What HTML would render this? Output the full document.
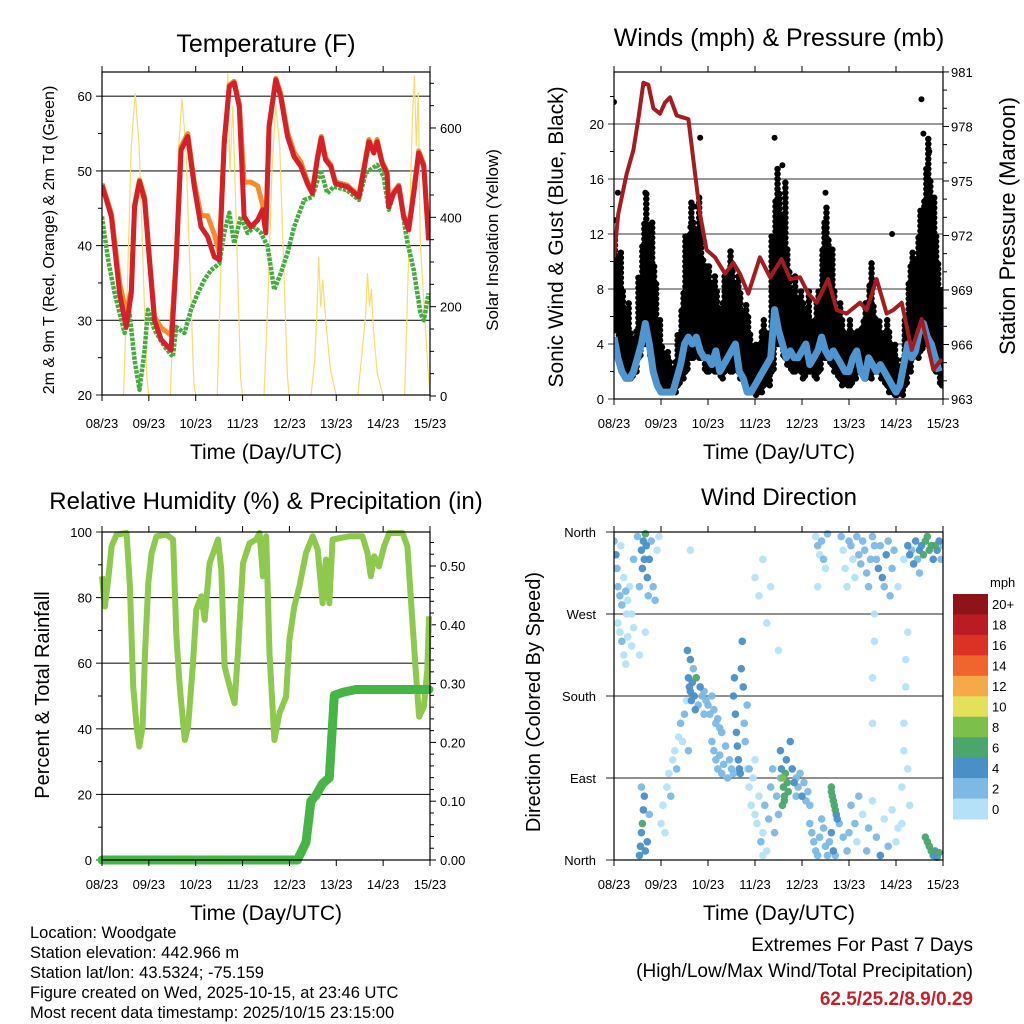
<!DOCTYPE html>
<html><head><meta charset="utf-8"><style>
html,body{margin:0;padding:0;background:#fff;}
svg{display:block;font-family:"Liberation Sans",sans-serif;}
</style></head><body>
<svg id="fig" width="1024" height="1024" viewBox="0 0 1024 1024" xmlns="http://www.w3.org/2000/svg">
<defs>
<clipPath id="c1"><rect x="102" y="72" width="328" height="323"/></clipPath>
<clipPath id="c2"><rect x="614" y="72" width="329" height="327"/></clipPath>
<clipPath id="c3"><rect x="97" y="527" width="338" height="338"/></clipPath>
<clipPath id="c4"><rect x="614" y="528" width="329" height="336"/></clipPath>
</defs>
</svg>
<script>
// ---------- Temperature panel data ----------
const tRedH=[0,4.8,9.0,12.4,15.0,16.7,19.2,21.8,24.3,26.9,30.3,35.4,38.0,40.5,43.9,47.3,50.7,54.1,57.5,60.1,62.6,65.2,67.7,70.3,72.8,76.2,79.7,82.2,83.9,85.6,89.0,91.6,95.0,98.4,101.8,105.2,107.7,110.3,112.3,114.5,117.2,119.6,125.6,131.6,134.1,136.7,139.2,140.9,143.5,146.0,146.9,149.4,152.0,154.5,157.1,159.7,162.2,164.8,167.3];
const tRed=[48.1,43.9,33.6,29.1,33.6,45.2,48.6,46.1,38.1,30.0,27.4,26.0,38.0,52.8,54.6,47.9,42.5,41.2,38.5,38.1,53.7,61.3,61.8,58.6,43.9,42.5,43.4,44.8,41.7,55.9,62.2,59.9,54.6,51.9,50.6,48.3,47.0,51.5,54.4,51.5,50.6,48.3,47.9,46.5,50.1,53.9,52.4,53.9,51.0,49.7,45.2,47.0,47.9,43.9,42.1,47.0,52.4,50.6,40.7];
const tOrange=[48.3,44.3,35.0,31.0,34.0,45.5,48.8,46.5,38.6,30.5,29.0,28.0,38.5,53.2,55.0,48.5,44.0,44.0,41.5,39.0,54.0,61.5,62.0,59.0,48.5,48.5,48.0,45.5,42.0,56.2,62.4,60.3,55.2,52.5,51.2,48.6,47.2,51.8,54.6,51.8,50.8,48.5,48.1,46.7,50.4,54.2,52.8,54.2,51.2,49.9,45.4,47.2,48.1,44.1,42.4,47.5,52.7,50.9,41.0];
const tDewH=[0,3.1,6.5,11.6,14.1,16.7,19.2,21.8,23.5,26.9,32.0,36.3,38.0,42.2,45.6,49.0,52.4,55.8,60.1,62.6,65.2,67.7,71.1,74.5,78.0,81.4,84.8,88.2,91.6,95.0,98.4,103.5,107.7,112.0,115.4,118.8,125.6,131.6,135.0,140.9,144.3,146.9,149.4,152.0,156.2,159.7,163.1,164.8,167.3];
const tDew=[43.9,38.1,33.6,28.3,31.0,24.7,20.7,26.0,31.4,28.7,26.5,25.1,29.1,28.3,31.4,33.6,35.4,36.7,37.6,41.7,44.4,40.3,43.9,41.7,42.5,41.7,39.9,34.1,36.3,39.0,42.5,46.1,46.5,50.1,47.0,47.9,47.4,46.1,49.7,50.8,49.2,44.8,47.0,47.9,40.7,36.7,31.0,30.0,33.6];
const solarH=[0,11,13,15,17,19,21,23,24, 35,37,39,41,43,45,47,48, 59,61,63,64.5,65.5,67,69,71,72, 83,85,87,89,91,93,95,96, 107,109,110,111,112,113,115,117,120, 131,133,135,136,137,138,139,141,144, 155,157,159,160,161,162,163,165,167,168];
const solarV=[0,0,250,560,678,560,300,40,0, 0,240,540,666,550,290,30,0, 0,300,600,723,500,650,350,40,0, 0,220,500,650,560,300,40,0, 0,80,180,312,200,260,150,60,0, 0,90,180,275,200,240,150,50,0, 0,300,620,718,560,680,350,200,60,0];
const tempTicks=[20,30,40,50,60];
const solarTicks=[0,200,400,600];
const dayLabels=["08/23","09/23","10/23","11/23","12/23","13/23","14/23","15/23"];
// ---------- Wind panel data ----------
const presH=[0,2.2,6.5,9.9,12.4,15.0,17.5,20.1,23.5,26.0,28.6,32.0,38.0,40.5,43.9,47.3,51.6,56.7,60.9,64.3,68.6,74.5,79.7,85.6,89.9,95.0,99.2,103.5,109.4,113.7,118.8,125.6,129.0,134.1,139.2,142.6,146.9,152.0,157.1,163.1,167.3];
const presV=[970.8,973.2,975.4,976.7,978.4,980.4,980.3,979.0,978.7,979.3,979.6,978.6,978.4,976.2,973.2,971.2,970.8,969.9,970.5,969.9,968.8,970.8,969.7,970.7,969.6,969.7,968.8,968.3,969.6,967.9,967.7,968.3,967.9,969.6,967.7,967.9,968.3,965.7,967.4,964.6,965.2];
const windV=[4.5,3,2,1.5,1.5,2,3,4,5.5,4,2,1, 0.5,0.5,0.5,0.5,1.5,2.5,4,4.5,4,4.5,3.5,3, 3,2.5,3.5,2,2.5,3,3.5,4,2,1.5,0.5,0.5, 1,1.5,2,2.5,3,6.5,5,4,3,3.5,3,3, 3.5,4,2.5,3,3.5,4.5,3.5,3,3.5,3,2.5,2, 2,3,3.5,2,1.5,3,2.5,2,2.5,2,1.5,1, 0.5,1,2.5,4,3,3.5,5,5.5,4.5,4,3,2];
const gustMax=[12,11,8,7,5,5,9,13,15,13,10,6, 4,3.5,3,3,5,8,12,14.5,13,15,12,10, 10,9,8,7,9,11,10,9,8,7,6,4, 4,5,6,5,12,17,15,16,11,8,9,8, 7,8,6,7,8,13,14,11,8,7,6,5, 6,5,5,6,7,10,7,6,5,6,5,4, 3,3,6,10,11,12,14,17,19,15,12,8];
const gustMin=[5,3,2,1.5,1.5,2,3,4,4,3,2,1, 0.5,0.5,0.5,0.5,1,1.5,2,3,3,3,3,2, 2,2,2,1.5,2,2,2,2,1.5,1,0.5,0.5, 0.3,0.5,1,1,2,4,4,3,2.5,2,2,2, 1.5,2,2,1.5,2,3,3,2.5,2,1.5,1,1, 1,1.5,2,2,1.5,1.5,2,2,1.5,1,0.5,0.3, 0.3,0.3,1,2,3,3,3.5,4,4,3,2,1];
const gustOutH=[0,0.5,2,16,39,41,44,82,86,108,142,157,158,161,160];
const gustOutV=[21.6,13,15,15,12.5,14,19,19,17,15,12,21.8,19.3,18,16.5];
const windTicks=[0,4,8,12,16,20];
const presTicks=[963,966,969,972,975,978,981];
// ---------- RH / precip data ----------
const rhH=[0,1.5,3.2,4.9,7.5,12.6,14.3,16.0,17.7,19.1,20.8,22.0,23.7,25.4,27.9,33.0,36.4,38.1,39.8,42.4,44.1,46.6,48.3,50.9,52.6,55.1,59.4,61.1,62.8,65.4,67.9,69.6,72.2,75.6,79.0,80.7,82.4,84.1,85.8,88.3,90.9,94.3,96.0,98.5,101.1,104.5,107.9,110.5,113.0,114.7,116.4,118.1,126.6,133.4,136.0,137.7,139.4,141.9,144.5,147.1,153.9,156.4,158.1,160.7,162.4,164.9,166.6,167.5];
const rhV=[86.5,77.3,85.5,95.6,99.2,99.7,83.4,53,40.7,34.6,40.7,63,84.4,93.6,98.7,99.2,97.7,68.2,53,36.6,40.7,60,76.3,80.4,73.2,90.5,97.7,88.5,59,52.9,47.8,63.1,90.5,96.6,97.7,99.7,86.5,98.7,63,36.6,44.8,49.8,67.1,77.3,83.4,93.6,98.7,94.6,78.3,91.6,78.3,97.7,98.7,98.7,93.6,86.5,92.6,89.5,95.6,99.7,99.7,95.6,80.4,58,43.7,46.8,58,74.3];
const prH=[0,100.1,104.5,107.0,109.6,113.0,116.4,119.0,123.3,130.0,167.5];
const prV=[0,0,0.03,0.10,0.11,0.13,0.14,0.28,0.285,0.29,0.29];
const rhTicks=[0,20,40,60,80,100];
const prTicks=["0.00","0.10","0.20","0.30","0.40","0.50"];
// ---------- Wind direction data ----------
const wdH=[0,1,1.5,2,3,3.5,4,5,6,6.5, 7,8,9,10,12,13,14,14.5,15,15.5, 16,16.5,17,17.5,18,19,20,21,22,23,
 2,3,4,5,6,7,9,10,13,16, 13,13.5,14,14.5,15,15.5,16,17,18,14,
 24,25,26,27,28,29,30,31,32,33, 34,35,36,37,38,
 37.5,38,38.5,39,39.5,40,40.5,41,41.5,42, 43,44,45,46,39,
 46,47,48,49,50,51,52,53,54,55, 50,51,52,53,54,55,56,57,58,59, 60,61,
 61,61.5,62,62.5,63,63.5,64,64.5,65,65.5, 66,66.5,67,68,69,
 68,69,70,71,72,73,74,75,76,77, 78,79,80,81,82,83,84,85,72,76,
 85,85.5,86,86.5,87,87.5,88,88.5,89,90, 91,92,93,86,87,
 93,94,95,96,97,98,99,100,
 100,101,102,103,104,105,106,107,108,109, 110,111,112,113,115,117,119,120,
 111,111.5,112,112.5,113,113.5,114,111,
 121,123,124,125,127,129,130,132,134,136, 138,140,142,144,145,
 103,104,105,106,107,108,109,104,
 116,117,118,119,120,121,122,123,124,125, 126,127,128,129,130,131,132,133,134,135, 136,137,138,139,140,141,142,143,145,148,
 150,151,152,153,154,155,156,157,158,159, 160,161,162,163,164,165,166,167,168,156,
 159,160,161,162,163,164,165,166,
 72,74,76,78,80,84,132,132,133,133, 147,147,148,148,149,149,150,150,151,39];
const wdDir=[350,335,320,300,290,345,280,310,295,270, 285,300,270,330,355,300,340,320,350,330, 358,345,310,290,330,350,300,285,340,355,
 260,250,240,225,215,245,235,255,225,250, 5,15,30,40,55,70,10,20,50,80,
 40,60,30,80,95,70,110,120,100,135, 150,130,160,175,120,
 230,200,190,185,175,195,210,180,165,200, 170,190,180,160,220,
 185,175,170,160,180,165,150,155,145,140, 130,120,110,100,115,95,105,125,90,110, 100,95,
 180,200,160,140,125,110,100,95,210,240, 190,150,130,170,100,
 100,80,60,90,50,40,70,20,30,60, 10,45,80,100,30,70,50,90,110,5,
 120,100,90,80,70,95,110,85,75,130, 100,85,70,60,65,
 90,80,95,70,85,65,75,60,
 40,30,20,10,5,25,45,35,15,5, 20,30,10,5,40,25,10,30,
 75,70,65,60,55,50,45,80,
 60,40,20,70,50,10,35,65,25,5, 45,15,55,20,35,
 355,345,335,350,330,320,358,300,
 355,340,320,300,350,345,330,310,355,335, 325,350,340,315,300,330,355,345,330,320, 345,310,300,335,350,290,320,340,300,330,
 345,335,340,325,350,330,340,345,335,350, 355,340,345,330,345,340,350,330,345,315,
 25,20,15,10,5,10,3,8,
 310,290,330,260,300,230,150,200,240,270, 40,80,120,150,190,220,250,100,60,340];
const wdSpd=[3,4,2,2,2,1,2,1,2,1, 1,1,1,2,2,2,5,4,5,4, 6,5,4,3,4,2,3,2,1,1,
 1,1,2,1,1,1,0,1,1,1, 4,5,4,7,4,5,4,4,2,2,
 0,1,0,1,0,2,1,1,2,1, 2,1,2,1,2,
 4,4,4,5,4,4,3,4,4,7, 3,4,3,3,4,
 2,2,3,2,2,3,2,2,2,2, 2,3,3,2,2,3,2,2,3,2, 2,3,
 4,4,4,4,5,4,4,4,4,4, 4,3,3,2,2,
 1,1,0,1,1,1,1,2,1,2, 1,2,2,2,3,2,2,2,1,0,
 4,5,8,7,7,6,5,6,7,4, 4,4,3,7,7,
 3,3,2,4,3,3,2,2,
 2,3,3,3,2,3,2,3,2,2, 3,4,4,3,3,3,2,2,
 6,7,6,7,7,5,4,6,
 2,2,1,3,1,2,2,1,2,4, 1,2,1,1,1,
 1,2,1,2,2,1,2,1,
 2,1,1,1,2,2,1,1,2,3, 2,2,3,2,3,2,3,2,3,4, 3,4,3,4,3,2,2,3,1,1,
 4,4,3,4,4,3,4,5,6,7, 7,6,7,5,6,4,4,3,3,2,
 6,7,6,6,5,5,4,6,
 0,0,1,0,0,0,1,1,1,0, 0,0,0,1,0,0,1,0,0,0];
const dirTicks=[0,90,180,270,360];
const dirLabels=["North","East","South","West","North"];
const spdColors=["#b5e1f8","#7cb9e5","#4a8fc8","#4aa66d","#7bc04a","#e4e05a","#f5a948","#f0652e","#dc3226","#bb1b22","#8e1419"];
const spdLabels=["0","2","4","6","8","10","12","14","16","18","20+"];

const NS="http://www.w3.org/2000/svg";
const svg=document.getElementById('fig');
function mk(tag,attrs,parent){const e=document.createElementNS(NS,tag);for(const k in attrs)e.setAttribute(k,attrs[k]);(parent||svg).appendChild(e);return e;}
function txt(x,y,s,size,anchor,parent,extra){const e=mk('text',Object.assign({x:x,y:y,'font-size':size,'text-anchor':anchor||'middle',fill:'#000'},extra||{}),parent);e.textContent=s;return e;}
function poly(pts){return pts.map(p=>p[0].toFixed(1)+','+p[1].toFixed(1)).join(' ');}

function xAxis(x0,x1,h){return x0+h*(x1-x0)/168;}
function frame(g,x0,y0,x1,y1,name){
  const r=mk('rect',{x:x0,y:y0,width:x1-x0,height:y1-y0,fill:'none',stroke:'#000','stroke-width':1.2},g);
  
  
}
function dayTicks(g,x0,x1,y0,y1,labY){
  for(let i=0;i<8;i++){
    const x=xAxis(x0,x1,i*24);
    mk('line',{x1:x,y1:y1,x2:x,y2:y1+6,stroke:'#000','stroke-width':1},g);
    mk('line',{x1:x,y1:y0,x2:x,y2:y0-6,stroke:'#000','stroke-width':1},g);
    const t=txt(x,labY,dayLabels[i],13,'middle',g);
    
    
  }
}

// ================= Panel 1: Temperature =================
const g1=mk('g',{});


const P1={x0:102,x1:430,y0:72,y1:395};
const yT=v=>395-(v-20)*7.47;
const yS=v=>396-v*0.4467;
const x1f=h=>xAxis(P1.x0,P1.x1,h);
for(const v of tempTicks){const y=yT(v);mk('line',{x1:P1.x0-6,y1:y,x2:P1.x1,y2:y,stroke:'#222','stroke-width':1.1},g1);const t=txt(P1.x0-10,y+5,String(v),13,'end',g1);}
for(let v=25;v<=60;v+=10){const y=yT(v);mk('line',{x1:P1.x0-4,y1:y,x2:P1.x0,y2:y,stroke:'#000'},g1);}
for(let v=0;v<=700;v+=50){const y=yS(v);mk('line',{x1:P1.x1,y1:y,x2:P1.x1+(v%200==0?6:4),y2:y,stroke:'#000'},g1);}
for(const v of solarTicks){const t=txt(P1.x1+10,yS(v)+5,String(v),13,'start',g1);}
const cl1=mk('g',{'clip-path':'url(#c1)'},g1);
const sol=mk('polyline',{points:poly(solarH.map((h,i)=>[x1f(h),yS(solarV[i])])),fill:'none',stroke:'#f7dc6f','stroke-width':1.2},cl1);


const dew=mk('polyline',{points:poly(tDewH.map((h,i)=>[x1f(h),yT(tDew[i])])),fill:'none',stroke:'#45ad3f','stroke-width':4.5,'stroke-dasharray':'3.5 1.2','stroke-linejoin':'round'},cl1);


const org=mk('polyline',{points:poly(tRedH.map((h,i)=>[x1f(h),yT(tOrange[i])])),fill:'none',stroke:'#f58a2e','stroke-width':5,'stroke-linejoin':'round'},cl1);


const red=mk('polyline',{points:poly(tRedH.map((h,i)=>[x1f(h),yT(tRed[i])])),fill:'none',stroke:'#d42028','stroke-width':5,'stroke-linejoin':'round'},cl1);


frame(g1,P1.x0,P1.y0,P1.x1,P1.y1,'temperature-plot-frame');
dayTicks(g1,P1.x0,P1.x1,P1.y0,P1.y1,428);
let t;
t=txt(266,52,'Temperature (F)',25,'middle',g1);
t=txt(266,459,'Time (Day/UTC)',21,'middle',g1);
t=txt(0,0,'2m & 9m T (Red, Orange) & 2m Td (Green)',16,'middle',g1,{transform:'translate(54,240) rotate(-90)'});
t=txt(0,0,'Solar Insolation (Yellow)',17,'middle',g1,{transform:'translate(498,240) rotate(-90)'});

// ================= Panel 2: Winds =================
const g2=mk('g',{});


const P2={x0:614,x1:943,y0:72,y1:399};
const yW=v=>399-v*13.75;
const yP=p=>399-(p-963)*18.17;
const x2f=h=>xAxis(P2.x0,P2.x1,h);
for(const v of windTicks){const y=yW(v);mk('line',{x1:P2.x0-6,y1:y,x2:P2.x1,y2:y,stroke:'#333','stroke-width':1.1},g2);const t=txt(P2.x0-10,y+5,String(v),13,'end',g2);}
for(let v=2;v<=22;v+=4){const y=yW(v);mk('line',{x1:P2.x0-4,y1:y,x2:P2.x0,y2:y,stroke:'#000'},g2);}
for(let p=963;p<=981;p++){const y=yP(p);mk('line',{x1:P2.x1,y1:y,x2:P2.x1+((p-963)%3==0?6:4),y2:y,stroke:'#000'},g2);}
for(const p of presTicks){const t=txt(P2.x1+8,yP(p)+5,String(p),13,'start',g2);}
const cl2=mk('g',{'clip-path':'url(#c2)'},g2);
const gustG=mk('g',{},cl2);


gustMax.forEach((v,i)=>{const x=x2f(i*2+1)+((i%2)?1:-1);const b=mk('line',{x1:x,y1:yW(gustMin[i]),x2:x,y2:yW(v),stroke:'#000','stroke-width':6.5,'stroke-linecap':'round','stroke-dasharray':'0 5'},gustG);

});
gustMax.forEach((v,i)=>{const x=x2f(i*2+1)+((i%2)?-1:1);const b=mk('line',{x1:x,y1:yW(gustMin[i])-2.5,x2:x,y2:yW((v+gustMin[i])/2+ (v-gustMin[i])*0.3),stroke:'#000','stroke-width':6.5,'stroke-linecap':'round','stroke-dasharray':'0 5'},gustG);

});
gustOutH.forEach((h,i)=>{const c=mk('circle',{cx:x2f(h),cy:yW(gustOutV[i]),r:3,fill:'#000'},gustG);

});
const wl=mk('polyline',{points:poly(windV.map((v,i)=>[x2f(i*2),yW(v)])),fill:'none',stroke:'#4f96d0','stroke-width':7,'stroke-linejoin':'round'},cl2);


const pl=mk('polyline',{points:poly(presH.map((h,i)=>[x2f(h),yP(presV[i])])),fill:'none',stroke:'#a31d20','stroke-width':4,'stroke-linejoin':'round'},cl2);


frame(g2,P2.x0,P2.y0,P2.x1,P2.y1,'wind-plot-frame');
dayTicks(g2,P2.x0,P2.x1,P2.y0,P2.y1,428);
t=txt(779,46,'Winds (mph) & Pressure (mb)',25,'middle',g2);
t=txt(779,459,'Time (Day/UTC)',21,'middle',g2);
t=txt(0,0,'Sonic Wind & Gust (Blue, Black)',21,'middle',g2,{transform:'translate(563,237) rotate(-90)'});
t=txt(0,0,'Station Pressure (Maroon)',22,'middle',g2,{transform:'translate(1015,226) rotate(-90)'});

// ================= Panel 3: RH & precip =================
const g3=mk('g',{});


const P3={x0:102,x1:430,y0:532,y1:860};
const yR=v=>860-v*3.28;
const yPr=v=>860-v*588;
const x3f=h=>xAxis(P3.x0,P3.x1,h);
for(const v of rhTicks){const y=yR(v);mk('line',{x1:P3.x0-6,y1:y,x2:P3.x1,y2:y,stroke:'#222','stroke-width':1.1},g3);const t=txt(P3.x0-10,y+5,String(v),13,'end',g3);}
for(let v=10;v<=90;v+=20){const y=yR(v);mk('line',{x1:P3.x0-4,y1:y,x2:P3.x0,y2:y,stroke:'#000'},g3);}
for(let k=0;k<=27;k++){const v=k*0.02;const y=yPr(v);mk('line',{x1:P3.x1,y1:y,x2:P3.x1+(k%5==0?6:4),y2:y,stroke:'#000'},g3);}
prTicks.forEach(s=>{const t=txt(P3.x1+10,yPr(parseFloat(s))+5,s,13,'start',g3);});
const cl3=mk('g',{'clip-path':'url(#c3)'},g3);
const rl=mk('polyline',{points:poly(rhH.map((h,i)=>[x3f(h),yR(rhV[i])])),fill:'none',stroke:'#8dc94c','stroke-width':6,'stroke-linejoin':'round'},cl3);


const prl=mk('polyline',{points:poly(prH.map((h,i)=>[x3f(h),yPr(prV[i])])),fill:'none',stroke:'#47b446','stroke-width':9,'stroke-linejoin':'round','stroke-linecap':'round'},cl3);


frame(g3,P3.x0,P3.y0,P3.x1,P3.y1,'humidity-plot-frame');
dayTicks(g3,P3.x0,P3.x1,P3.y0,P3.y1,889);
t=txt(266,509,'Relative Humidity (%) & Precipitation (in)',24,'middle',g3);
t=txt(266,920,'Time (Day/UTC)',21,'middle',g3);
t=txt(0,0,'Percent & Total Rainfall',20,'middle',g3,{transform:'translate(49,695) rotate(-90)'});

// ================= Panel 4: Wind direction =================
const g4=mk('g',{});


const P4={x0:614,x1:943,y0:532,y1:860};
const yD=d=>860-d*(328/360);
const x4f=h=>xAxis(P4.x0,P4.x1,h);
dirTicks.forEach((d,i)=>{const y=yD(d);mk('line',{x1:P4.x0-8,y1:y,x2:P4.x1,y2:y,stroke:'#222','stroke-width':1.1},g4);const t=txt(P4.x0-18,y+5,dirLabels[i],13,'end',g4);});
const cl4=mk('g',{'clip-path':'url(#c4)'},g4);
const ordIdx=wdH.map((h,i)=>i).sort((a,b)=>wdSpd[a]-wdSpd[b]);
for(const i of ordIdx){
  const bin=Math.min(10,Math.floor(wdSpd[i]/2));
  const c=mk('circle',{cx:x4f(wdH[i]),cy:yD(wdDir[i]),r:3.8,fill:spdColors[bin],'fill-opacity':0.95},cl4);
  
  
}
frame(g4,P4.x0,P4.y0,P4.x1,P4.y1,'direction-plot-frame');
dayTicks(g4,P4.x0,P4.x1,P4.y0,P4.y1,889);
t=txt(779,505,'Wind Direction',24,'middle',g4);
t=txt(779,920,'Time (Day/UTC)',21,'middle',g4);
t=txt(0,0,'Direction (Colored By Speed)',20,'middle',g4,{transform:'translate(540,702) rotate(-90)'});
const cb=mk('g',{},g4);


const cbTop=594,cbH=225/11;
for(let k=0;k<11;k++){
  const idx=10-k;
  const r=mk('rect',{x:953,y:cbTop+k*cbH,width:35,height:cbH+0.5,fill:spdColors[idx]},cb);
  
  
  const l=txt(992,cbTop+k*cbH+cbH/2+5,spdLabels[idx],13,'start',cb);
  
  
}
t=txt(990,587,'mph',13,'start',cb);

// ================= Footer text =================
const info=['Location: Woodgate','Station elevation: 442.966 m','Station lat/lon: 43.5324; -75.159','Figure created on Wed, 2025-10-15, at 23:46 UTC','Most recent data timestamp: 2025/10/15 23:15:00'];
info.forEach((s,i)=>{const e=txt(30,938+i*20,s,16.5,'start');});
t=txt(973,951,'Extremes For Past 7 Days',19,'end');
t=txt(973,977,'(High/Low/Max Wind/Total Precipitation)',19,'end');
t=txt(973,1005,'62.5/25.2/8.9/0.29',19,'end',null,{fill:'#c8202a','font-weight':'bold'});
</script>
</body></html>
